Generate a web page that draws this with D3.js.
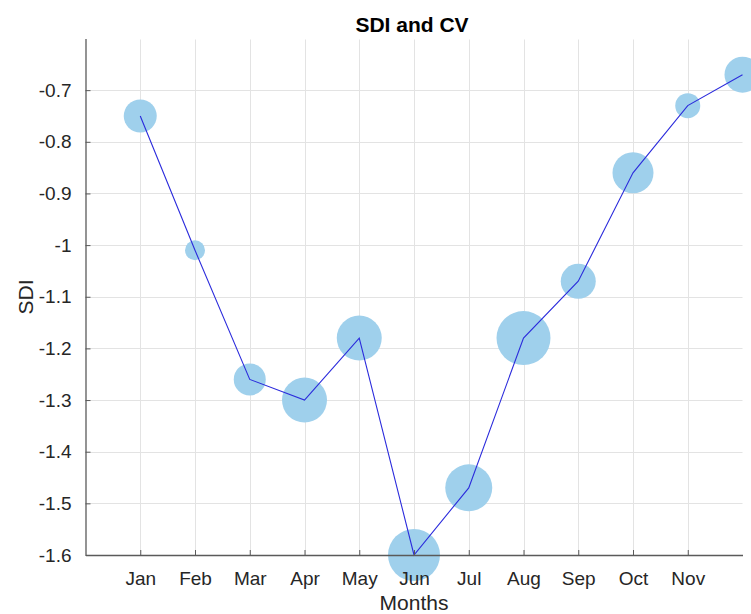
<!DOCTYPE html>
<html>
<head>
<meta charset="utf-8">
<script src="https://cdn.jsdelivr.net/npm/d3@7"></script>
<style>
  html, body { margin: 0; padding: 0; background: #fff; }
  svg { display: block; font-family: "Liberation Sans", Arial, Helvetica, sans-serif; }
</style>
</head>
<body>
<svg id="chart" width="751" height="614"></svg>
<script>
// Monthly SDI with bubble size showing CV
const months = ["Jan","Feb","Mar","Apr","May","Jun","Jul","Aug","Sep","Oct","Nov","Dec"];
const monthIndex = [1,2,3,4,5,6,7,8,9,10,11,12];
const sdi = [-0.75,-1.01,-1.26,-1.30,-1.18,-1.60,-1.47,-1.18,-1.07,-0.86,-0.73,-0.67];
const cvRadius = [16.5,10,16,22.5,22.5,26,23.5,27,17.5,20.5,12.5,18];
const xTickLabels = ["Jan","Feb","Mar","Apr","May","Jun","Jul","Aug","Sep","Oct","Nov"];
const yTicks = [-0.7,-0.8,-0.9,-1.0,-1.1,-1.2,-1.3,-1.4,-1.5,-1.6];

const svg = d3.select("#chart");
const plotLeft = 85.5, plotRight = 742.5, plotTop = 38.5, plotBottom = 555;

const x = d3.scaleLinear().domain([0, 12]).range([plotLeft, plotRight]);
const y = d3.scaleLinear().domain([-1.6, -0.6]).range([plotBottom, plotTop]);

// grid
const grid = svg.append("g").attr("stroke", "#e3e3e3").attr("stroke-width", 1);
grid.selectAll("line.v").data(monthIndex.slice(0, 11)).enter().append("line")
  .attr("x1", d => Math.round(x(d)) + 0.5).attr("x2", d => Math.round(x(d)) + 0.5)
  .attr("y1", plotTop + 1).attr("y2", plotBottom);
grid.selectAll("line.h").data(yTicks.slice(0, 9)).enter().append("line")
  .attr("y1", d => Math.round(y(d)) + 0.5).attr("y2", d => Math.round(y(d)) + 0.5)
  .attr("x1", plotLeft).attr("x2", plotRight);

// bubbles
const pts = months.map((m, i) => ({ m, xi: monthIndex[i], v: sdi[i], r: cvRadius[i] }));
svg.append("g").selectAll("circle").data(pts).enter().append("circle")
  .attr("cx", d => x(d.xi)).attr("cy", d => y(d.v)).attr("r", d => d.r)
  .attr("fill", "#9fd0ec");

// line
svg.append("path").datum(pts)
  .attr("fill", "none").attr("stroke", "#2b2bdc").attr("stroke-width", 1.1)
  .attr("d", d3.line().x(d => x(d.xi)).y(d => y(d.v)));

// axes
const xAxis = d3.axisBottom(x).tickValues(monthIndex.slice(0, 11))
  .tickFormat((d, i) => xTickLabels[i]).tickSizeInner(-5).tickSizeOuter(0).tickPadding(17);
const gx = svg.append("g").attr("transform", `translate(0,${plotBottom})`).call(xAxis);
const yAxis = d3.axisLeft(y).tickValues(yTicks)
  .tickFormat(d => String(+d.toFixed(1)))
  .tickSizeInner(-5).tickSizeOuter(0).tickPadding(14);
const gy = svg.append("g").attr("transform", `translate(${plotLeft},0)`).call(yAxis);

[gx, gy].forEach(g => {
  g.select(".domain").attr("stroke", "#5a5a5a").attr("stroke-width", 1.3);
  g.selectAll(".tick line").attr("stroke", "#5a5a5a");
  g.selectAll(".tick text").attr("fill", "#262626").attr("font-size", 19)
    .attr("font-family", "'Liberation Sans', Arial, sans-serif");
});

// title and axis labels
svg.append("text").attr("x", 412).attr("y", 32).attr("text-anchor", "middle")
  .attr("font-size", 21).attr("font-weight", "bold").attr("fill", "#000")
  .text("SDI and CV");
svg.append("text").attr("x", 414).attr("y", 610).attr("text-anchor", "middle")
  .attr("font-size", 21).attr("fill", "#262626").text("Months");
svg.append("text").attr("transform", "translate(33,297) rotate(-90)")
  .attr("text-anchor", "middle").attr("font-size", 21).attr("fill", "#262626").text("SDI");
</script>
</body>
</html>
